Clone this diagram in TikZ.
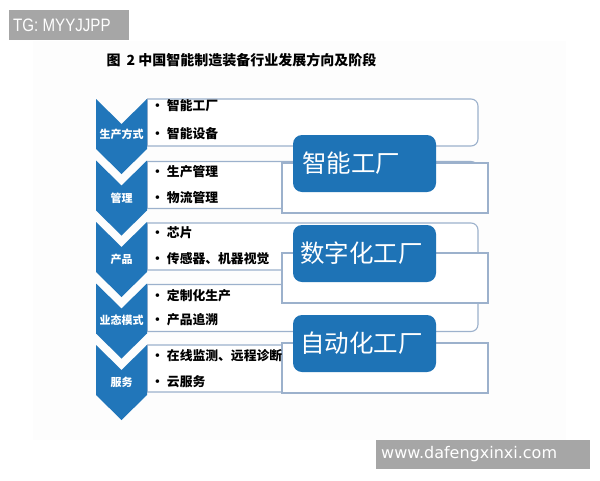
\documentclass[tikz,border=0pt]{standalone}
\usepackage{fontspec}
\setmainfont{Liberation Sans}
\newfontfamily\cjk{Noto Sans CJK SC}
\newfontfamily\dejavu{DejaVu Sans}
\definecolor{chevblue}{HTML}{2176BA}
\definecolor{boxblue}{HTML}{1E73B6}
\definecolor{edgegray}{HTML}{9CB1CC}
\definecolor{markgray}{HTML}{A6A6A6}
\tikzset{
  listbox/.style={draw=edgegray, line width=1.1pt, fill=white, rounded corners=7pt},
  overlaybox/.style={draw=edgegray, line width=1.1pt, fill=white},
  chevron/.style={fill=chevblue, draw=none},
  bigbox/.style={fill=boxblue, draw=none, rounded corners=9pt, minimum width=143pt, minimum height=57pt, inner sep=0pt},
  bigtext/.style={text=white, font=\cjk\fontsize{24.5}{26}\selectfont, anchor=west, inner sep=0pt},
  item/.style={anchor=west, inner sep=0pt, font=\cjk\bfseries\fontsize{12.8}{14}\selectfont, text=black},
  chevlabel/.style={text=white, inner sep=0pt, font=\cjk\bfseries\fontsize{11}{12}\selectfont},
  markbox/.style={fill=markgray, draw=none, inner sep=0pt}
}
\begin{document}
\begin{tikzpicture}[x=1pt,y=-1pt]
\useasboundingbox (0,0) rectangle (600,480);
\fill[white] (0,0) rectangle (600,480);
\fill[black!0.8] (33,41) rectangle (566,440);
% title
\node[font=\cjk\bfseries\fontsize{14}{16}\selectfont] (title) at (241.5,60) {图\hspace{6pt}2\hspace{3pt}中国智能制造装备行业发展方向及阶段};
% list boxes
\foreach \i/\t in {1/99,2/161.5,3/223,4/284.5,5/345}{
  \path[listbox] (147,\t) -- (478,\t) -- (478,\t+47) -- (147,\t+47);
  \draw[edgegray, line width=1.1pt] (147,\t) -- (147,\t+47);
}
% chevrons
\foreach \i/\t in {1/99,2/160.5,3/222,4/283.5,5/345}{
  \fill[chevron] (96,\t) -- (121.5,\t+25) -- (147,\t) -- (147,\t+50) -- (121.5,\t+75) -- (96,\t+50) -- cycle;
}
% overlay rectangles
\draw[overlaybox] (282,163) rectangle (488,213);
\draw[overlaybox] (282,253) rectangle (488,303);
\draw[overlaybox] (282,343) rectangle (488,393);
% big blue boxes
\node[bigbox] (b1) at (364.5,163.5) {};
\node[bigbox] (b2) at (364.5,253.5) {};
\node[bigbox] (b3) at (364.5,343.5) {};
\node[bigtext] (t1) at ([xshift=9pt]b1.west) {智能工厂};
\node[bigtext] (t2) at ([xshift=7pt]b2.west) {数字化工厂};
\node[bigtext] (t3) at ([xshift=7pt]b3.west) {自动化工厂};
% chevron labels
\node[chevlabel] (c1) at (121.5,134) {生产方式};
\node[chevlabel] (c2) at (121.5,198) {管理};
\node[chevlabel] (c3) at (121.5,259) {产品};
\node[chevlabel] (c4) at (121.5,320) {业态模式};
\node[chevlabel] (c5) at (121.5,382) {服务};
% items
\node[item] (i1a) at (151,106) {•\hspace{3pt}智能工厂};
\node[item] (i1b) at (151,134) {•\hspace{3pt}智能设备};
\node[item] (i2a) at (151,172) {•\hspace{3pt}生产管理};
\node[item] (i2b) at (151,198) {•\hspace{3pt}物流管理};
\node[item] (i3a) at (151,233) {•\hspace{3pt}芯片};
\node[item] (i3b) at (151,259) {•\hspace{3pt}传感器、机器视觉};
\node[item] (i4a) at (151,296) {•\hspace{3pt}定制化生产};
\node[item] (i4b) at (151,320) {•\hspace{3pt}产品追溯};
\node[item] (i5a) at (151,356) {•\hspace{3pt}在线监测、远程诊断};
\node[item] (i5b) at (151,382) {•\hspace{3pt}云服务};
% watermarks
\fill[markgray] (9,10) rectangle (129,40);
\node[anchor=west, inner sep=0pt, text=white, font=\fontsize{18}{20}\selectfont] (tg) at (13,25.5) {\scalebox{0.84}[1]{TG: MYYJJPP}};
\fill[markgray] (376,440) rectangle (590,469);
\node[anchor=west, inner sep=0pt, text=white, font=\dejavu\fontsize{16}{18}\selectfont] (url) at (381,454.5) {www.dafengxinxi.com};
\end{tikzpicture}
\end{document}
